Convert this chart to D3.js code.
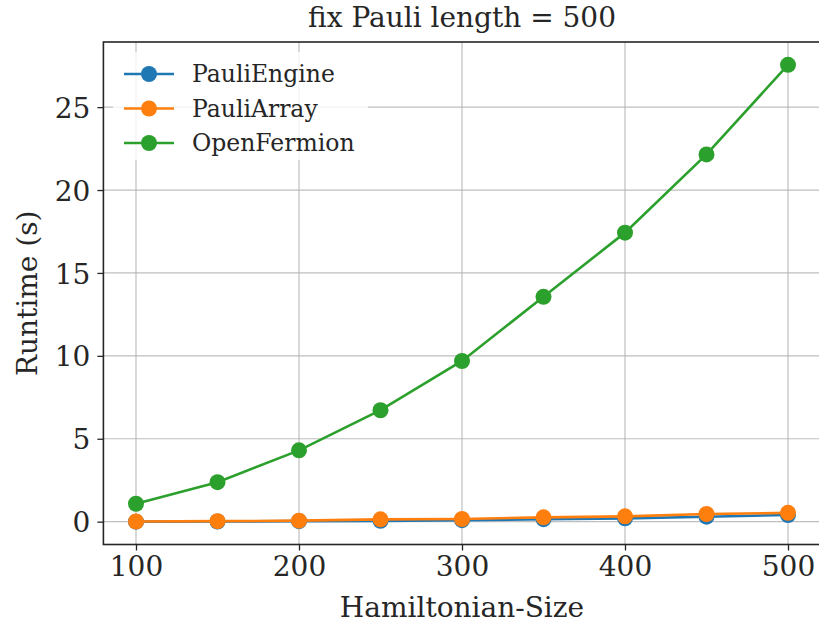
<!DOCTYPE html>
<html><head><meta charset="utf-8">
<script src="https://cdn.jsdelivr.net/npm/d3@7"></script>
<style>body{margin:0;background:#fff;} svg{display:block;font-family:"DejaVu Serif",serif;}</style>
</head><body>
<svg id="c" width="819" height="625"></svg>
<script>
const sizes = [100,150,200,250,300,350,400,450,500];
const pauliEngine = [0.00,0.01,0.03,0.05,0.09,0.15,0.20,0.30,0.40];
const pauliArray  = [0.01,0.03,0.06,0.14,0.16,0.26,0.32,0.46,0.53];
const openFermion = [1.08,2.38,4.30,6.72,9.69,13.56,17.43,22.15,27.55];
const xTicks = [100,200,300,400,500];
const yTicks = [0,5,10,15,20,25];
const seriesNames = ["PauliEngine","PauliArray","OpenFermion"];
const colors = ["#1f77b4","#ff7f0e","#2ca02c"];
const title = "fix Pauli length = 500";
const xLabel = "Hamiltonian-Size";
const yLabel = "Runtime (s)";

const series = [pauliEngine, pauliArray, openFermion];
const svg = d3.select("#c");
const L=103.4, R=820.6, T=42, B=544.5;
const allY = series.flat();
const yMin = d3.min(allY), yMax = d3.max(allY), pad=(yMax-yMin)*0.05;
const x = d3.scaleLinear().domain([80,520]).range([L,R]);
const y = d3.scaleLinear().domain([yMin-pad,yMax+pad]).range([B,T]);
const txt = "#262626";

// grid
const g = svg.append("g");
g.selectAll(".gx").data(xTicks).join("line").attr("x1",d=>x(d)).attr("x2",d=>x(d)).attr("y1",T).attr("y2",B)
 .attr("stroke","#b0b0b0").attr("stroke-width",1.2).attr("opacity",0.8);
g.selectAll(".gy").data(yTicks).join("line").attr("y1",d=>y(d)).attr("y2",d=>y(d)).attr("x1",L).attr("x2",R)
 .attr("stroke","#b0b0b0").attr("stroke-width",1.2).attr("opacity",0.8);

// series
const line = d3.line().x((d,i)=>x(sizes[i])).y(d=>y(d));
series.forEach((s,k)=>{
  svg.append("path").datum(s).attr("d",line).attr("fill","none").attr("stroke",colors[k]).attr("stroke-width",2.6);
  svg.append("g").selectAll("circle").data(s).join("circle").attr("cx",(d,i)=>x(sizes[i])).attr("cy",d=>y(d)).attr("r",8).attr("fill",colors[k]);
});

// axes
const xa = svg.append("g").attr("transform",`translate(0,${B})`).call(d3.axisBottom(x).tickValues(xTicks).tickSize(6).tickPadding(6));
const ya = svg.append("g").attr("transform",`translate(${L},0)`).call(d3.axisLeft(y).tickValues(yTicks).tickSize(6).tickPadding(7));
[xa,ya].forEach(a=>{a.select(".domain").remove();a.selectAll("text").attr("font-family","DejaVu Serif").attr("font-size",28).attr("fill",txt);a.selectAll("line").attr("stroke",txt).attr("stroke-width",1.3);});
ya.selectAll("text").attr("dy","0.36em");
svg.append("rect").attr("x",L).attr("y",T).attr("width",R-L).attr("height",B-T).attr("fill","none").attr("stroke",txt).attr("stroke-width",1.6);

// legend
const lg = svg.append("g");
lg.append("rect").attr("x",113).attr("y",52).attr("width",255).attr("height",108).attr("fill","#fff").attr("opacity",0.8);
seriesNames.forEach((n,k)=>{
  const yy = 74 + k*34.5;
  lg.append("line").attr("x1",124).attr("x2",174).attr("y1",yy).attr("y2",yy).attr("stroke",colors[k]).attr("stroke-width",2.6);
  lg.append("circle").attr("cx",149).attr("cy",yy).attr("r",8).attr("fill",colors[k]);
  lg.append("text").attr("x",192).attr("y",yy+8).attr("font-size",23.5).attr("fill",txt).text(n);
});

svg.append("text").attr("x",(L+R)/2).attr("y",27).attr("text-anchor","middle").attr("font-size",28).attr("fill",txt).text(title);
svg.append("text").attr("x",(L+R)/2).attr("y",617).attr("text-anchor","middle").attr("font-size",28).attr("fill",txt).text(xLabel);
svg.append("text").attr("transform",`translate(37,${(T+B)/2}) rotate(-90)`).attr("text-anchor","middle").attr("font-size",28).attr("fill",txt).text(yLabel);
</script>
</body></html>
